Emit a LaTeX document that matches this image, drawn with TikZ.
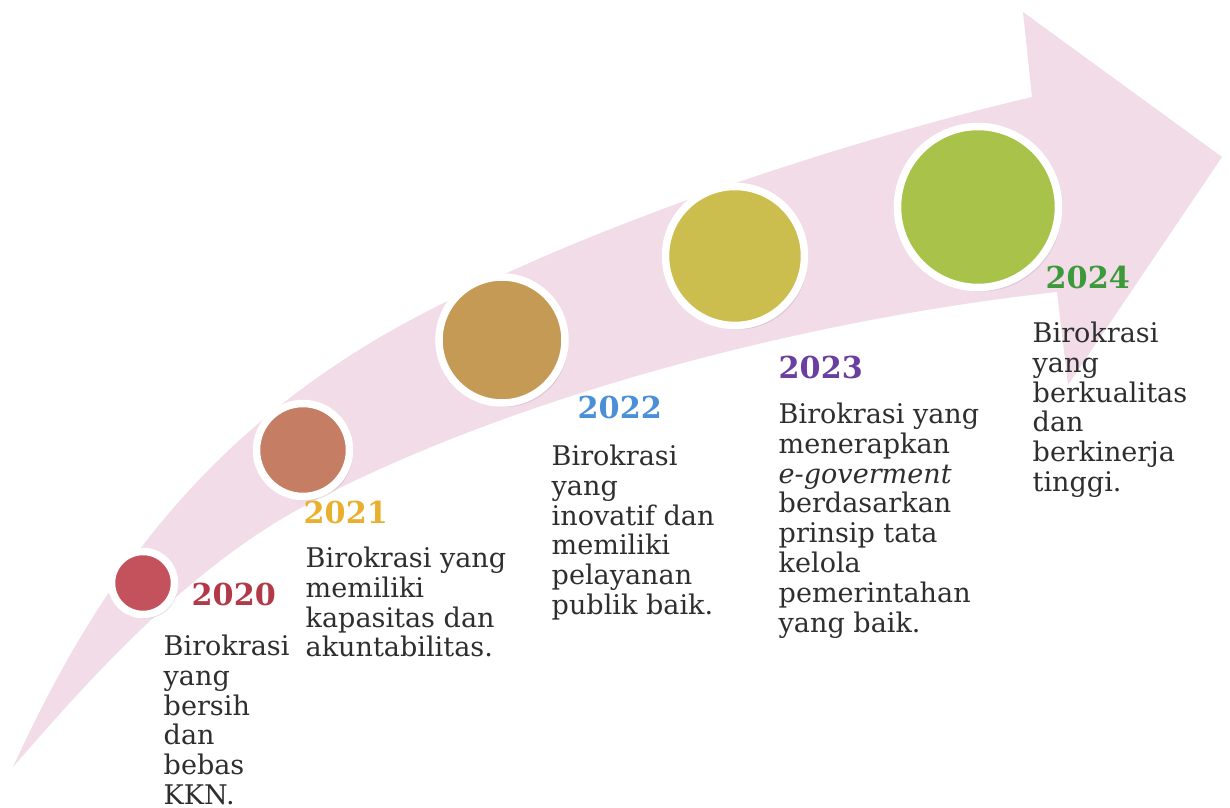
\documentclass[tikz,border=0pt]{standalone}
\usepackage{fontspec}
\setmainfont{DejaVu Serif}
\usepackage{xcolor}
\usetikzlibrary{positioning,shadows}

\definecolor{bandpink}{HTML}{F1DCE8}
\definecolor{textgray}{HTML}{2E2E2E}
% dots
\definecolor{dotA}{HTML}{C4525C}
\definecolor{dotB}{HTML}{C57E63}
\definecolor{dotC}{HTML}{C49A55}
\definecolor{dotD}{HTML}{CBBE4E}
\definecolor{dotE}{HTML}{A8C24A}
% years
\definecolor{yrA}{HTML}{B23A48}
\definecolor{yrB}{HTML}{E8B02E}
\definecolor{yrC}{HTML}{4A8FD8}
\definecolor{yrD}{HTML}{6B3FA0}
\definecolor{yrE}{HTML}{3C9A3A}

\begin{document}
\begin{tikzpicture}[x=0.1mm,y=-0.1mm,
    dot/.style={circle, draw=white, line width=0.75mm, fill=#1, inner sep=0pt,
        drop shadow={opacity=0.2, shadow xshift=0.3mm, shadow yshift=-0.4mm}},
    year/.style={text=#1, font=\fontsize{8.6}{10}\selectfont\bfseries, inner sep=0pt, anchor=base west},
    desc/.style={text=textgray, font=\fontsize{7.7}{8.5}\selectfont, align=left, inner sep=0pt, anchor=north west}]
    \useasboundingbox (0,0) rectangle (1230,808);

    % Curved band with arrow head
    \fill[bandpink] (13,767) .. controls (90,600) and (200,420) .. (450,300)
        .. controls (620,215) and (850,140) .. (1032,97)
        -- (1023,12) -- (1222,157) -- (1068,385) -- (1057,292)
        .. controls (800,320) and (500,400) .. (297,510)
        .. controls (180,575) and (80,690) .. (13,767) -- cycle;

    % Milestones
    \node[dot=dotA, minimum size=6.3mm] (d20) at (143,583) {};
    \node[dot=dotB, minimum size=9.3mm] (d21) at (303,450) {};
    \node[dot=dotC, minimum size=12.6mm] (d22) at (502,340) {};
    \node[dot=dotD, minimum size=13.9mm] (d23) at (735,256) {};
    \node[dot=dotE, minimum size=16.1mm] (d24) at (978,207) {};

    % Years
    \node[year=yrA] (y20) at (191,606) {2020};
    \node[year=yrB] (y21) at (303,524) {2021};
    \node[year=yrC] (y22) at (577,419) {2022};
    \node[year=yrD] (y23) at (778,379) {2023};
    \node[year=yrE] (y24) at (1045,289) {2024};

    % Descriptions
    \node[desc] (t20) at (163,634) {Birokrasi\\yang\\bersih\\dan\\bebas\\KKN.};
    \node[desc] (t21) at (305,546) {Birokrasi yang\\memiliki\\kapasitas dan\\akuntabilitas.};
    \node[desc] (t22) at (551,444) {Birokrasi\\yang\\inovatif dan\\memiliki\\pelayanan\\publik baik.};
    \node[desc] (t23) at (778,402) {Birokrasi yang\\menerapkan\\\textit{e-goverment}\\berdasarkan\\prinsip tata\\kelola\\pemerintahan\\yang baik.};
    \node[desc] (t24) at (1032,321) {Birokrasi\\yang\\berkualitas\\dan\\berkinerja\\tinggi.};
\end{tikzpicture}
\end{document}
